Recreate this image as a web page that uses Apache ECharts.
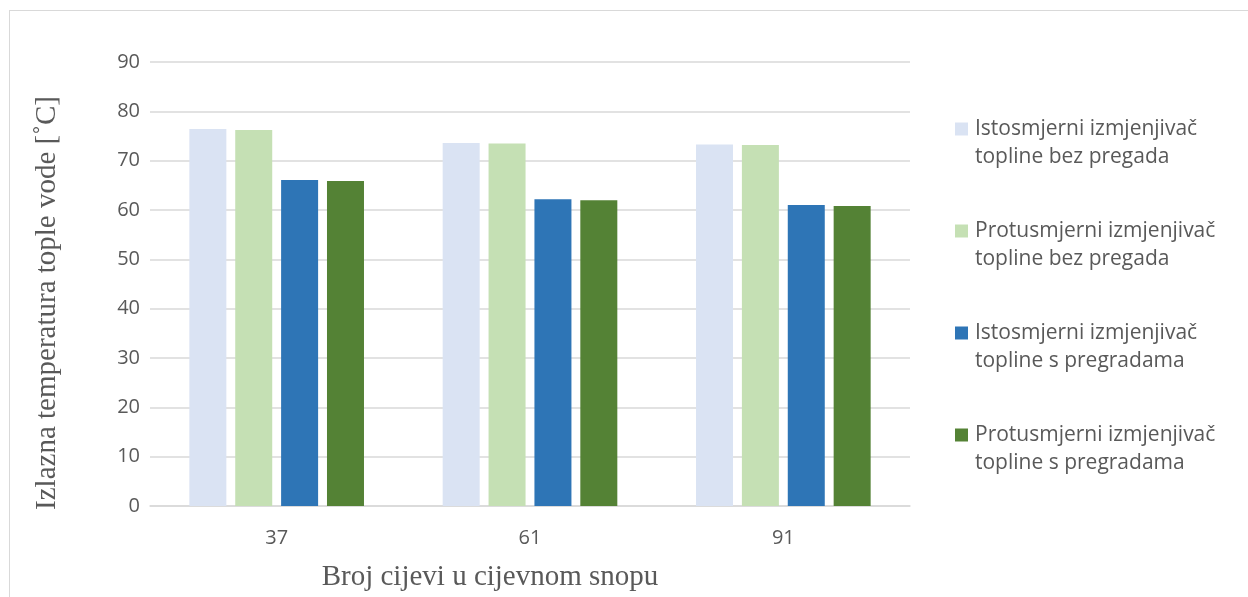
<!DOCTYPE html>
<html>
<head>
<meta charset="utf-8">
<script src="https://cdn.jsdelivr.net/npm/echarts@6/dist/echarts.min.js"></script>
<style>
  html, body { margin: 0; padding: 0; background: #fff; overflow: hidden; }
  #frame { position: absolute; left: 9px; top: 10px; width: 1400px; height: 800px; border: 1px solid #d9d9d9; }
  #chart { position: absolute; left: 0; top: 0; width: 1248px; height: 597px; }
</style>
</head>
<body>
<div id="frame"></div>
<div id="chart"></div>
<script>
// cijevi u snopu
const categories = ['37', '61', '91'];
const seriesNames = [
  'Istosmjerni izmjenjivač\ntopline bez pregada',
  'Protusmjerni izmjenjivač\ntopline bez pregada',
  'Istosmjerni izmjenjivač\ntopline s pregradama',
  'Protusmjerni izmjenjivač\ntopline s pregradama'
];
const istoBez = [76.4, 73.6, 73.3];
const protuBez = [76.2, 73.5, 73.2];
const istoS = [66.1, 62.2, 61.0];
const protuS = [65.9, 62.0, 60.8];
const colors = ['#dae3f3', '#c5e0b4', '#2e75b6', '#548235'];

const chart = echarts.init(document.getElementById('chart'));

const barSeries = [istoBez, protuBez, istoS, protuS].map((d, i) => ({
  name: seriesNames[i],
  type: 'bar',
  data: d,
  barWidth: 37,
  barGap: '24%',
  itemStyle: { color: colors[i] }
}));

const option = {
  animation: false,
  grid: { left: 150, right: 338, top: 62, bottom: 90 },
  legend: {
    orient: 'vertical',
    left: 950,
    top: 110,
    itemGap: 46,
    itemWidth: 13,
    itemHeight: 56,
    // square aligned with the first text line
    icon: 'path://M0,0M13,56M0,7.5H13V20.5H0Z',
    textStyle: { fontFamily: 'Open Sans', fontSize: 21, color: '#595959', lineHeight: 28, padding: [0, 0, 0, 2] },
    data: seriesNames
  },
  xAxis: {
    type: 'category',
    data: categories,
    axisLine: { lineStyle: { color: '#d9d9d9', width: 1.5 } },
    axisTick: { show: false },
    axisLabel: { fontFamily: 'Open Sans', fontSize: 20, color: '#595959', margin: 22 },
    name: 'Broj cijevi u cijevnom snopu',
    nameLocation: 'middle',
    nameGap: 57,
    nameTextStyle: { fontFamily: 'Liberation Serif', fontSize: 29, color: '#595959', padding: [0, 80, 0, 0] }
  },
  yAxis: {
    type: 'value',
    min: 0,
    max: 90,
    interval: 10,
    axisLine: { show: false },
    axisTick: { show: false },
    splitLine: { lineStyle: { color: '#d9d9d9', width: 1.5 } },
    axisLabel: { fontFamily: 'Open Sans', fontSize: 20, color: '#595959', margin: 10 },
    name: 'Izlazna temperatura tople vode [˚C]',
    nameLocation: 'middle',
    nameGap: 88,
    nameTextStyle: { fontFamily: 'Liberation Serif', fontSize: 29, color: '#595959', padding: [0, 38, 0, 0] }
  },
  series: barSeries
};

chart.setOption(option);
</script>
</body>
</html>
